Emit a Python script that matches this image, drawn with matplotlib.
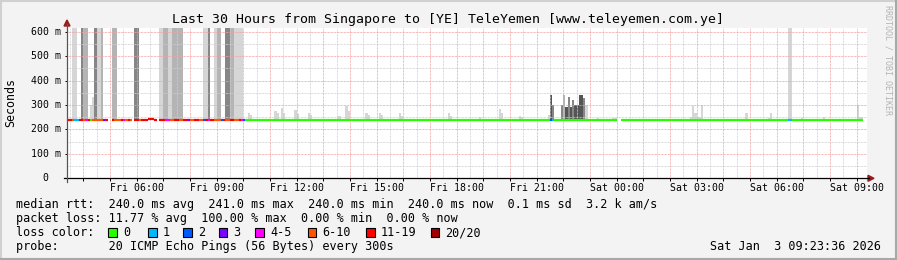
import matplotlib
matplotlib.use('Agg')
import matplotlib.pyplot as plt
from matplotlib.patches import Rectangle, Polygon
from matplotlib.lines import Line2D
import numpy as np

W, H = 897, 260

TITLE = "Last 30 Hours from Singapore to [YE] TeleYemen [www.teleyemen.com.ye]"
VIEW_START = 3.393          # Fri 03:23:36, hours from Fri 00:00
VIEW_END = 33.393           # Sat 09:23:36
START_HOUR = 3 + 25 / 60    # first 5 min step
STEP_HOURS = 5 / 60
Y_MAX = 614

# packet loss per 5 minute step (run length), None = 20/20 lost -> no median
LOSS_RUNS = [
    ("11-19", 2), ("6-10", 1), ("1", 2), ("11-19", 2), ("6-10", 1), ("4-5", 1),
    ("11-19", 1), ("0", 1), ("6-10", 5), ("3", 1), ("11-19", 1), (None, 2),
    ("11-19", 1), ("6-10", 3), ("11-19", 1), ("4-5", 1), ("6-10", 1), ("11-19", 1),
    ("6-10", 1), (None, 1), ("11-19", 2), ("6-10", 1), ("11-19", 7), (None, 1),
    ("11-19", 3), ("4-5", 2), ("6-10", 2), ("11-19", 2), ("6-10", 2), ("11-19", 2),
    ("3", 1), ("6-10", 2), ("11-19", 2), ("6-10", 2), ("2", 1), ("11-19", 1),
    ("4-5", 1), ("11-19", 2), ("6-10", 3), ("2", 1), ("11-19", 1), ("6-10", 2),
    ("11-19", 2), ("6-10", 2), ("11-19", 1), ("4-5", 1), ("2", 1),
    ("0", 137), ("2", 1), ("1", 1), ("0", 28), (None, 2), ("0", 75), ("1", 2), ("0", 32),
]
MEDIAN_MS = 240.0
BUMP_STEPS = [36, 37, 38]
BUMP_MS = [244, 244, 243]

# smoke (ping spread) per step: top of spread in ms, 900 = off the scale
SMOKE_STEPS = [2, 3, 6, 7, 8, 10, 11, 12, 13, 14, 15, 20, 21, 30, 31,
               41, 42, 43, 44, 45, 46, 47, 48, 49, 50, 51, 61, 62, 63, 66, 67, 68,
               71, 72, 73, 74, 75, 76, 77, 78,
               81, 82, 93, 94, 96, 97, 102, 103, 108, 109, 121, 122, 125, 126,
               134, 135, 140, 141, 149, 150, 171, 172, 185, 194, 195, 203, 204,
               216, 217, 218, 222, 223, 224, 225, 226, 227, 228, 229, 230, 231, 232, 233,
               238, 245, 246, 280, 281, 282, 283, 284, 285, 305, 315, 316, 324, 325,
               330, 340, 355, 356, 357]
SMOKE_TOP_MS = [900, 900, 900, 900, 900, 300, 333, 900, 900, 900, 900, 900, 900, 900, 900,
                900, 900, 900, 900, 900, 900, 900, 900, 900, 900, 900, 900, 900, 900, 900, 900, 900,
                900, 900, 900, 900, 900, 900, 900, 900,
                269, 258, 277, 267, 286, 267, 281, 262, 269, 258, 257, 257, 294, 277,
                269, 258, 269, 258, 267, 254, 267, 254, 249, 283, 267, 254, 249,
                260, 339, 301, 298, 339, 293, 331, 290, 320, 298, 300, 339, 339, 328, 301,
                246, 248, 248, 249, 294, 269, 249, 249, 298, 269, 248, 267, 900, 900,
                246, 249, 299, 249, 249]
SMOKE_SHADE = [0, 0, 2, 1, 1, 0, 0, 2, 0, 0, 1, 1, 1, 2, 2,
               0, 0, 1, 1, 0, 0, 1, 1, 1, 1, 1, 0, 0, 2, 0, 1, 1,
               2, 2, 1, 1, 0, 0, 0, 0,
               0, 0, 0, 0, 0, 0, 0, 0, 0, 0, 0, 0, 0, 0,
               0, 0, 0, 0, 0, 0, 0, 0, 0, 0, 0, 0, 0,
               0, 3, 2, 2, 1, 3, 2, 3, 2, 3, 3, 3, 3, 2, 0,
               0, 0, 0, 0, 0, 0, 0, 0, 0, 0, 0, 0, 0, 0,
               0, 0, 0, 0, 0]
SHADES = ['#d6d6d6', '#b4b4b4', '#868686', '#555555']

LOSS_LABELS = ["0", "1", "2", "3", "4-5", "6-10", "11-19", "20/20"]
LOSS_COLORS = ["#26ff00", "#00b8ff", "#0059ff", "#7e00ff", "#ff00ff", "#ff5500", "#ff0000", "#a00000"]

XTICK_HOURS = [6, 9, 12, 15, 18, 21, 24, 27, 30, 33]
XTICK_LABELS = ["Fri 06:00", "Fri 09:00", "Fri 12:00", "Fri 15:00", "Fri 18:00",
                "Fri 21:00", "Sat 00:00", "Sat 03:00", "Sat 06:00", "Sat 09:00"]
YTICK_MS = [0, 100, 200, 300, 400, 500, 600]
YTICK_LABELS = ["0", "100 m", "200 m", "300 m", "400 m", "500 m", "600 m"]

LEGEND_RTT = "median rtt:  240.0 ms avg  241.0 ms max  240.0 ms min  240.0 ms now  0.1 ms sd  3.2 k am/s"
LEGEND_LOSS = "packet loss: 11.77 % avg  100.00 % max  0.00 % min  0.00 % now"
LEGEND_PROBE = "probe:       20 ICMP Echo Pings (56 Bytes) every 300s"
STAMP = "Sat Jan  3 09:23:36 2026"

MONO = 'DejaVu Sans Mono'
plt.rcParams['font.family'] = MONO


def fx(px):
    return px / W


def fy(py):
    return 1 - py / H


fig = plt.figure(figsize=(W / 100, H / 100), dpi=100)
fig.patch.set_facecolor('#f3f3f3')

ax_left, ax_top, ax_right, ax_bottom = 67, 28.3, 867, 178.3
ax = fig.add_axes([fx(ax_left), fy(ax_bottom), (ax_right - ax_left) / W, (ax_bottom - ax_top) / H])
ax.set_facecolor('white')
ax.set_xlim(VIEW_START, VIEW_END)
ax.set_ylim(0, Y_MAX)

# smoke
smoke_x = START_HOUR + np.array(SMOKE_STEPS) * STEP_HOURS
smoke_top = np.minimum(np.array(SMOKE_TOP_MS, dtype=float), Y_MAX + 5)
ax.bar(smoke_x, smoke_top - 238, bottom=238, width=STEP_HOURS, align='edge',
       color=[SHADES[s] for s in SMOKE_SHADE], linewidth=0, zorder=1)

# grid
minor_dash = (0, (0.72, 0.72))
for h in np.arange(3.5, 33.5, 0.5):
    major = abs(h - round(h)) < 1e-6
    ax.axvline(h, color='#f2a0a0' if major else '#cfcfcf', lw=0.72,
               linestyle=minor_dash, zorder=2)
for v in range(50, 650, 50):
    ax.axhline(v, color='#f2a0a0' if v % 100 == 0 else '#cfcfcf', lw=0.72,
               linestyle=minor_dash, zorder=2)

# median line coloured by loss
cats = []
for cat, n in LOSS_RUNS:
    cats += [cat] * n
n_steps = len(cats)
t0 = START_HOUR + np.arange(n_steps) * STEP_HOURS
med = np.full(n_steps, MEDIAN_MS)
med[BUMP_STEPS] = BUMP_MS
for lab, col in zip(LOSS_LABELS, LOSS_COLORS):
    mask = np.array([c == lab for c in cats])
    if mask.any():
        ax.hlines(med[mask], t0[mask], t0[mask] + STEP_HOURS, colors=col, lw=1.6,
                  zorder=3, capstyle='butt')

for s in ax.spines.values():
    s.set_visible(False)
ax.set_xticks(np.arange(4, 34, 1))
ax.set_yticks(YTICK_MS)
ax.tick_params(axis='both', length=1.8, width=0.7, color='#000000', direction='out',
               labelbottom=False, labelleft=False)

# tick labels
for h, lab in zip(XTICK_HOURS, XTICK_LABELS):
    xp = ax_left + (h - VIEW_START) / (VIEW_END - VIEW_START) * (ax_right - ax_left)
    fig.text(fx(xp), fy(191), lab, ha='center', va='baseline', fontsize=7.1, color='black')
for v, lab in zip(YTICK_MS, YTICK_LABELS):
    yp = ax_bottom - v / Y_MAX * (ax_bottom - ax_top)
    if lab == "0":
        fig.text(fx(45.5), fy(yp + 3), lab, ha='center', va='baseline', fontsize=7.1)
    else:
        fig.text(fx(60.5), fy(yp + 3), lab, ha='right', va='baseline', fontsize=7.1)

# axes lines and arrows
fig.add_artist(Line2D([fx(64), fx(869)], [fy(ax_bottom), fy(ax_bottom)], color='black', lw=0.9))
fig.add_artist(Line2D([fx(ax_left), fx(ax_left)], [fy(182), fy(24)], color='#555555', lw=0.9))
fig.add_artist(Polygon([[fx(64), fy(26)], [fx(70), fy(26)], [fx(67), fy(20)]],
                       closed=True, color='#9b1c1c', transform=fig.transFigure))
fig.add_artist(Polygon([[fx(868), fy(175.3)], [fx(868), fy(181.3)], [fx(874), fy(178.3)]],
                       closed=True, color='#9b1c1c', transform=fig.transFigure))

# title, labels
fig.text(fx(448), fy(23.5), TITLE, ha='center', va='baseline', fontsize=9.5)
fig.text(fx(11), fy(103), "Seconds", rotation=90, ha='center', va='center', fontsize=8.4)
fig.text(fx(888), fy(5), "RRDTOOL / TOBI OETIKER", rotation=270, ha='center', va='top',
         fontsize=6, color='#b4b4b4')

# legend
fig.text(fx(16), fy(208), LEGEND_RTT, ha='left', va='baseline', fontsize=8.5)
fig.text(fx(16), fy(222), LEGEND_LOSS, ha='left', va='baseline', fontsize=8.5)
fig.text(fx(16), fy(236), "loss color:", ha='left', va='baseline', fontsize=8.5)
fig.text(fx(16), fy(250), LEGEND_PROBE, ha='left', va='baseline', fontsize=8.5)
fig.text(fx(881), fy(250), STAMP, ha='right', va='baseline', fontsize=8.5)

box_x = [108, 148, 183, 218.5, 255, 307.6, 366, 430.6]
for bx, lab, col in zip(box_x, LOSS_LABELS, LOSS_COLORS):
    fig.add_artist(Rectangle((fx(bx), fy(236.8)), 8.5 / W, 8.8 / H, transform=fig.transFigure,
                             facecolor=col, edgecolor='black', lw=0.8))
    fig.text(fx(bx + 15), fy(236), lab, ha='left', va='baseline', fontsize=8.5)

# image border
fig.add_artist(Line2D([0, 1], [fy(1), fy(1)], color='#d0d0d0', lw=1.5))
fig.add_artist(Line2D([fx(1), fx(1)], [0, 1], color='#d0d0d0', lw=1.5))
fig.add_artist(Line2D([0, 1], [fy(259), fy(259)], color='#a8a8a8', lw=1.5))
fig.add_artist(Line2D([fx(896), fx(896)], [0, 1], color='#a8a8a8', lw=1.5))

fig.savefig('out.png', dpi=100, facecolor=fig.get_facecolor())
